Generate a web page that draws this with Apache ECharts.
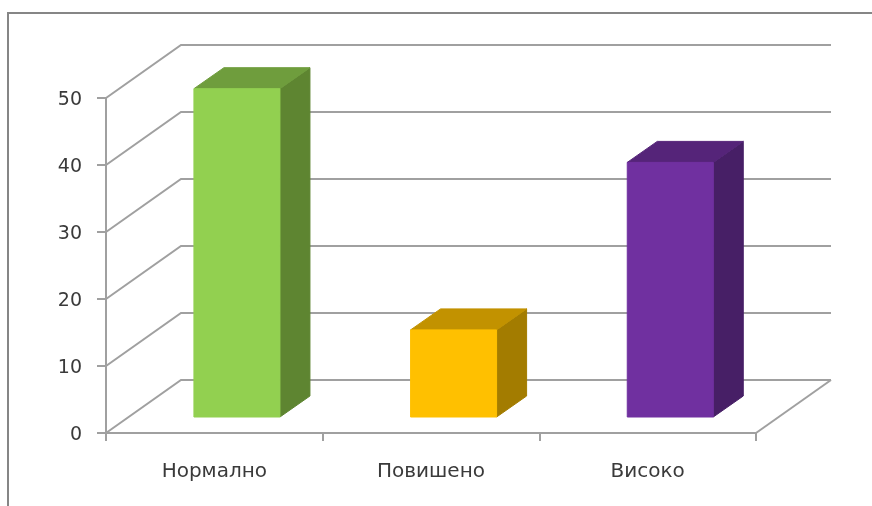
<!DOCTYPE html>
<html>
<head>
<meta charset="utf-8">
<style>html,body{margin:0;padding:0;background:#fff}#c{width:872px;height:506px}</style>
<script src="https://cdn.jsdelivr.net/npm/echarts@6/dist/echarts.min.js"></script>
</head>
<body>
<div id="c"></div>
<script>
const categories = ['Нормално', 'Повишено', 'Високо'];
const values = [49, 13, 38];
const gridLevels = [0, 10, 20, 30, 40, 50];
const frontColors = ['#92D050', '#FFC000', '#7030A0'];
const topColors = ['#6F9D3D', '#C29200', '#552479'];
const sideColors = ['#5E8531', '#A37C00', '#471F66'];

const WALL_DX = 75, WALL_DY = -53;
const BAR_SHIFT_X = 22.6, BAR_SHIFT_Y = -16;
const BAR_DX = 30, BAR_DY = -21;
const BAR_RATIO = 0.397;
const LINE = '#a0a0a0';
const FONT = 'DejaVu Sans';

const chart = echarts.init(document.getElementById('c'), null, {renderer: 'canvas'});
chart.setOption({
  animation: false,
  backgroundColor: '#fff',
  textStyle: {fontFamily: FONT},
  graphic: [{
    type: 'polyline', z: 0, silent: true,
    shape: {points: [[8, 506], [8, 13], [872, 13]]},
    style: {stroke: '#868686', lineWidth: 2, fill: null}
  }],
  grid: {left: 106, top: 98, width: 650, height: 335, containLabel: false},
  xAxis: {
    type: 'category', data: categories,
    axisLine: {lineStyle: {color: LINE, width: 2}},
    axisTick: {show: true, length: 8, lineStyle: {color: LINE, width: 2}},
    axisLabel: {color: '#3a3a3a', fontFamily: FONT, fontSize: 20, margin: 29, interval: 0},
    splitLine: {show: false}
  },
  yAxis: {
    type: 'value', min: 0, max: 50, interval: 10,
    axisLine: {show: true, lineStyle: {color: LINE, width: 2}},
    axisTick: {show: true, length: 9, lineStyle: {color: LINE, width: 2}},
    axisLabel: {
      margin: 24,
      formatter: '{n|{value}}',
      rich: {n: {color: '#3a3a3a', fontFamily: FONT, fontSize: 19, padding: [5, 0, 0, 0]}}
    },
    splitLine: {show: false}
  },
  series: [{
    type: 'custom', name: 'walls', silent: true, z: 1, clip: false,
    data: gridLevels.map(v => [0, v]),
    encode: {x: 0, y: 1},
    renderItem(params, api) {
      const cs = params.coordSys;
      const y = api.coord([0, api.value(1)])[1];
      const isFloor = api.value(1) === 0;
      const left = cs.x, right = cs.x + cs.width;
      const items = [{
        type: 'polyline',
        shape: {points: [[left, y], [left + WALL_DX, y + WALL_DY], [right + WALL_DX, y + WALL_DY]]},
        style: {stroke: LINE, lineWidth: 2, fill: null}
      }];
      if (isFloor) {
        items.push({
          type: 'line',
          shape: {x1: right, y1: y, x2: right + WALL_DX, y2: y + WALL_DY},
          style: {stroke: LINE, lineWidth: 2}
        });
      }
      return {type: 'group', children: items};
    }
  }, {
    type: 'custom', name: 'bars', silent: true, z: 2, clip: false,
    data: values.map((v, i) => [i, v]),
    encode: {x: 0, y: 1},
    renderItem(params, api) {
      const i = api.value(0);
      const top = api.coord([i, api.value(1)]);
      const base = api.coord([i, 0]);
      const w = api.size([1, 0])[0] * BAR_RATIO;
      const x0 = top[0] + BAR_SHIFT_X - w / 2, x1 = x0 + w;
      const yT = top[1] + BAR_SHIFT_Y, yB = base[1] + BAR_SHIFT_Y;
      const face = (points, fill) => ({
        type: 'polygon', shape: {points},
        style: {fill, stroke: fill, lineWidth: 1}
      });
      return {type: 'group', children: [
        face([[x1, yT], [x1 + BAR_DX, yT + BAR_DY], [x1 + BAR_DX, yB + BAR_DY], [x1, yB]], sideColors[i]),
        face([[x0, yT], [x0 + BAR_DX, yT + BAR_DY], [x1 + BAR_DX, yT + BAR_DY], [x1, yT]], topColors[i]),
        face([[x0, yT], [x1, yT], [x1, yB], [x0, yB]], frontColors[i])
      ]};
    }
  }]
});
</script>
</body>
</html>
